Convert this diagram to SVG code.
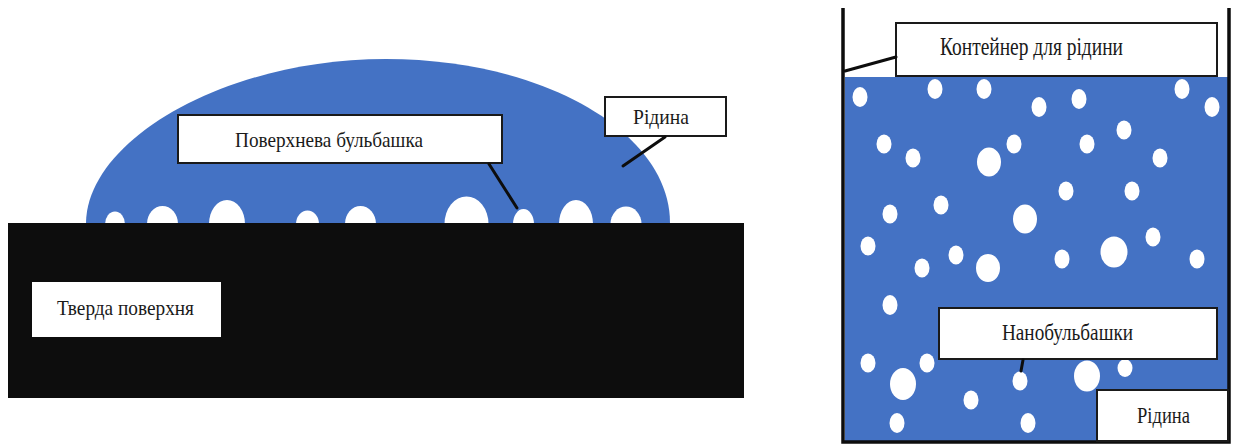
<svg xmlns="http://www.w3.org/2000/svg" width="1235" height="445" viewBox="0 0 1235 445">
  <style>
    .liquid { fill: #4472c4; }
    .solid { fill: #0d0d0d; }
    .bub { fill: #ffffff; }
    .box { fill: #ffffff; stroke: #1a1a1a; stroke-width: 2; }
    .txt { font-family: "Liberation Serif", "DejaVu Serif", serif; fill: #1a1a1a; }
    .lead { stroke: #0d0d0d; stroke-width: 3; stroke-linecap: round; fill: none; }
    .wall { stroke: #0d0d0d; stroke-width: 3.5; fill: none; }
  </style>

  <rect width="1235" height="445" fill="#ffffff"/>

  <!-- Left panel: liquid drop on a solid surface -->
  <g id="drop">
    <path class="liquid" d="M 86 223 C 87 140 225 59 386 59 C 543 59 670 132 670 223 Z"/>
  </g>

  <g id="surface-bubbles">
    <ellipse class="bub" cx="115" cy="224" rx="10" ry="12.5"/>
    <ellipse class="bub" cx="162.5" cy="224" rx="15.5" ry="18"/>
    <ellipse class="bub" cx="227" cy="224" rx="18" ry="24"/>
    <ellipse class="bub" cx="307.5" cy="224" rx="11.5" ry="13.5"/>
    <ellipse class="bub" cx="360.5" cy="224" rx="15.5" ry="18"/>
    <ellipse class="bub" cx="466.5" cy="224" rx="22" ry="27.5"/>
    <ellipse class="bub" cx="523.5" cy="224" rx="10.5" ry="15"/>
    <ellipse class="bub" cx="576" cy="224" rx="17" ry="24"/>
    <ellipse class="bub" cx="626" cy="224" rx="15.5" ry="17.5"/>
  </g>

  <g id="solid-surface">
    <rect class="solid" x="8" y="223" width="736" height="175"/>
  </g>

  <g id="label-solid">
    <rect x="32" y="282" width="189" height="55" fill="#ffffff"/>
    <text class="txt" x="57" y="315" font-size="22" textLength="137" lengthAdjust="spacingAndGlyphs">Тверда поверхня</text>
  </g>

  <g id="label-surface-bubble">
    <rect class="box" x="178" y="115" width="324" height="48" stroke-width="2.5"/>
    <text class="txt" x="235" y="147" font-size="21" textLength="188" lengthAdjust="spacingAndGlyphs">Поверхнева бульбашка</text>
  </g>

  <g id="label-drop-liquid">
    <rect class="box" x="605" y="97" width="121" height="39"/>
    <text class="txt" x="633" y="124" font-size="22" textLength="56" lengthAdjust="spacingAndGlyphs">Рідина</text>
  </g>

  <!-- Right panel: container filled with liquid and nanobubbles -->
  <g id="container">
    <rect class="liquid" x="845" y="77" width="383" height="364"/>
    <path class="wall" d="M 843 8 V 442 H 1229 V 8"/>
  </g>

  <g id="nanobubbles">
    <ellipse class="bub" cx="860" cy="97" rx="7.5" ry="10"/>
    <ellipse class="bub" cx="935" cy="89" rx="7.5" ry="10"/>
    <ellipse class="bub" cx="984" cy="89" rx="7.5" ry="10"/>
    <ellipse class="bub" cx="1039" cy="107" rx="7.5" ry="10"/>
    <ellipse class="bub" cx="1079" cy="99" rx="7.5" ry="10"/>
    <ellipse class="bub" cx="1182" cy="89" rx="7.5" ry="10"/>
    <ellipse class="bub" cx="1212" cy="107" rx="7.5" ry="10"/>
    <ellipse class="bub" cx="884" cy="144" rx="7.5" ry="9.5"/>
    <ellipse class="bub" cx="913" cy="158" rx="7.5" ry="9.5"/>
    <ellipse class="bub" cx="989" cy="162" rx="12" ry="14.5"/>
    <ellipse class="bub" cx="1014" cy="144" rx="7.5" ry="9.5"/>
    <ellipse class="bub" cx="1087" cy="144" rx="7.5" ry="9.5"/>
    <ellipse class="bub" cx="1124" cy="130" rx="7.5" ry="9.5"/>
    <ellipse class="bub" cx="1160" cy="158" rx="7.5" ry="9.5"/>
    <ellipse class="bub" cx="1066" cy="191" rx="7.5" ry="9.5"/>
    <ellipse class="bub" cx="1132" cy="191" rx="7.5" ry="9.5"/>
    <ellipse class="bub" cx="890" cy="214" rx="7.5" ry="9.5"/>
    <ellipse class="bub" cx="941" cy="205" rx="7.5" ry="9.5"/>
    <ellipse class="bub" cx="1025" cy="219" rx="12" ry="14.5"/>
    <ellipse class="bub" cx="868" cy="246" rx="7.5" ry="9.5"/>
    <ellipse class="bub" cx="956" cy="255" rx="7.5" ry="9.5"/>
    <ellipse class="bub" cx="922" cy="268" rx="7.5" ry="9.5"/>
    <ellipse class="bub" cx="988" cy="268" rx="12" ry="14"/>
    <ellipse class="bub" cx="1062" cy="259" rx="7.5" ry="9.5"/>
    <ellipse class="bub" cx="1114" cy="252" rx="13.5" ry="15.5"/>
    <ellipse class="bub" cx="1153" cy="237" rx="7.5" ry="9.5"/>
    <ellipse class="bub" cx="1197" cy="259" rx="7.5" ry="9.5"/>
    <ellipse class="bub" cx="890" cy="305" rx="7.5" ry="10"/>
    <ellipse class="bub" cx="868" cy="363" rx="7.5" ry="9.5"/>
    <ellipse class="bub" cx="927" cy="363" rx="7.5" ry="9.5"/>
    <ellipse class="bub" cx="903" cy="384" rx="13" ry="16"/>
    <ellipse class="bub" cx="1020" cy="381" rx="7.5" ry="9.5"/>
    <ellipse class="bub" cx="971" cy="400" rx="7.5" ry="9.5"/>
    <ellipse class="bub" cx="1087" cy="376" rx="13" ry="15.5"/>
    <ellipse class="bub" cx="1125" cy="368" rx="7.5" ry="9"/>
    <ellipse class="bub" cx="897" cy="423" rx="7.5" ry="10"/>
    <ellipse class="bub" cx="1028" cy="423" rx="7.5" ry="10"/>
  </g>

  <g id="label-container">
    <rect class="box" x="896" y="23" width="321" height="53"/>
    <text class="txt" x="940" y="55" font-size="25" textLength="183" lengthAdjust="spacingAndGlyphs">Контейнер для рідини</text>
  </g>

  <g id="label-nanobubbles">
    <rect class="box" x="939" y="308" width="278" height="51"/>
    <text class="txt" x="1002" y="340" font-size="24" textLength="131" lengthAdjust="spacingAndGlyphs">Нанобульбашки</text>
  </g>

  <g id="label-container-liquid">
    <rect class="box" x="1097" y="390" width="131" height="51"/>
    <text class="txt" x="1137" y="423" font-size="24" textLength="53" lengthAdjust="spacingAndGlyphs">Рідина</text>
  </g>

  <!-- Leader lines from labels to what they name -->
  <g id="connectors">
    <line class="lead" x1="489" y1="164" x2="517" y2="208"/>
    <line class="lead" x1="665" y1="137" x2="623" y2="166"/>
    <line class="lead" x1="896" y1="57" x2="845" y2="71" stroke-width="2.5"/>
    <line class="lead" x1="1023" y1="360" x2="1021" y2="371"/>
  </g>
</svg>
